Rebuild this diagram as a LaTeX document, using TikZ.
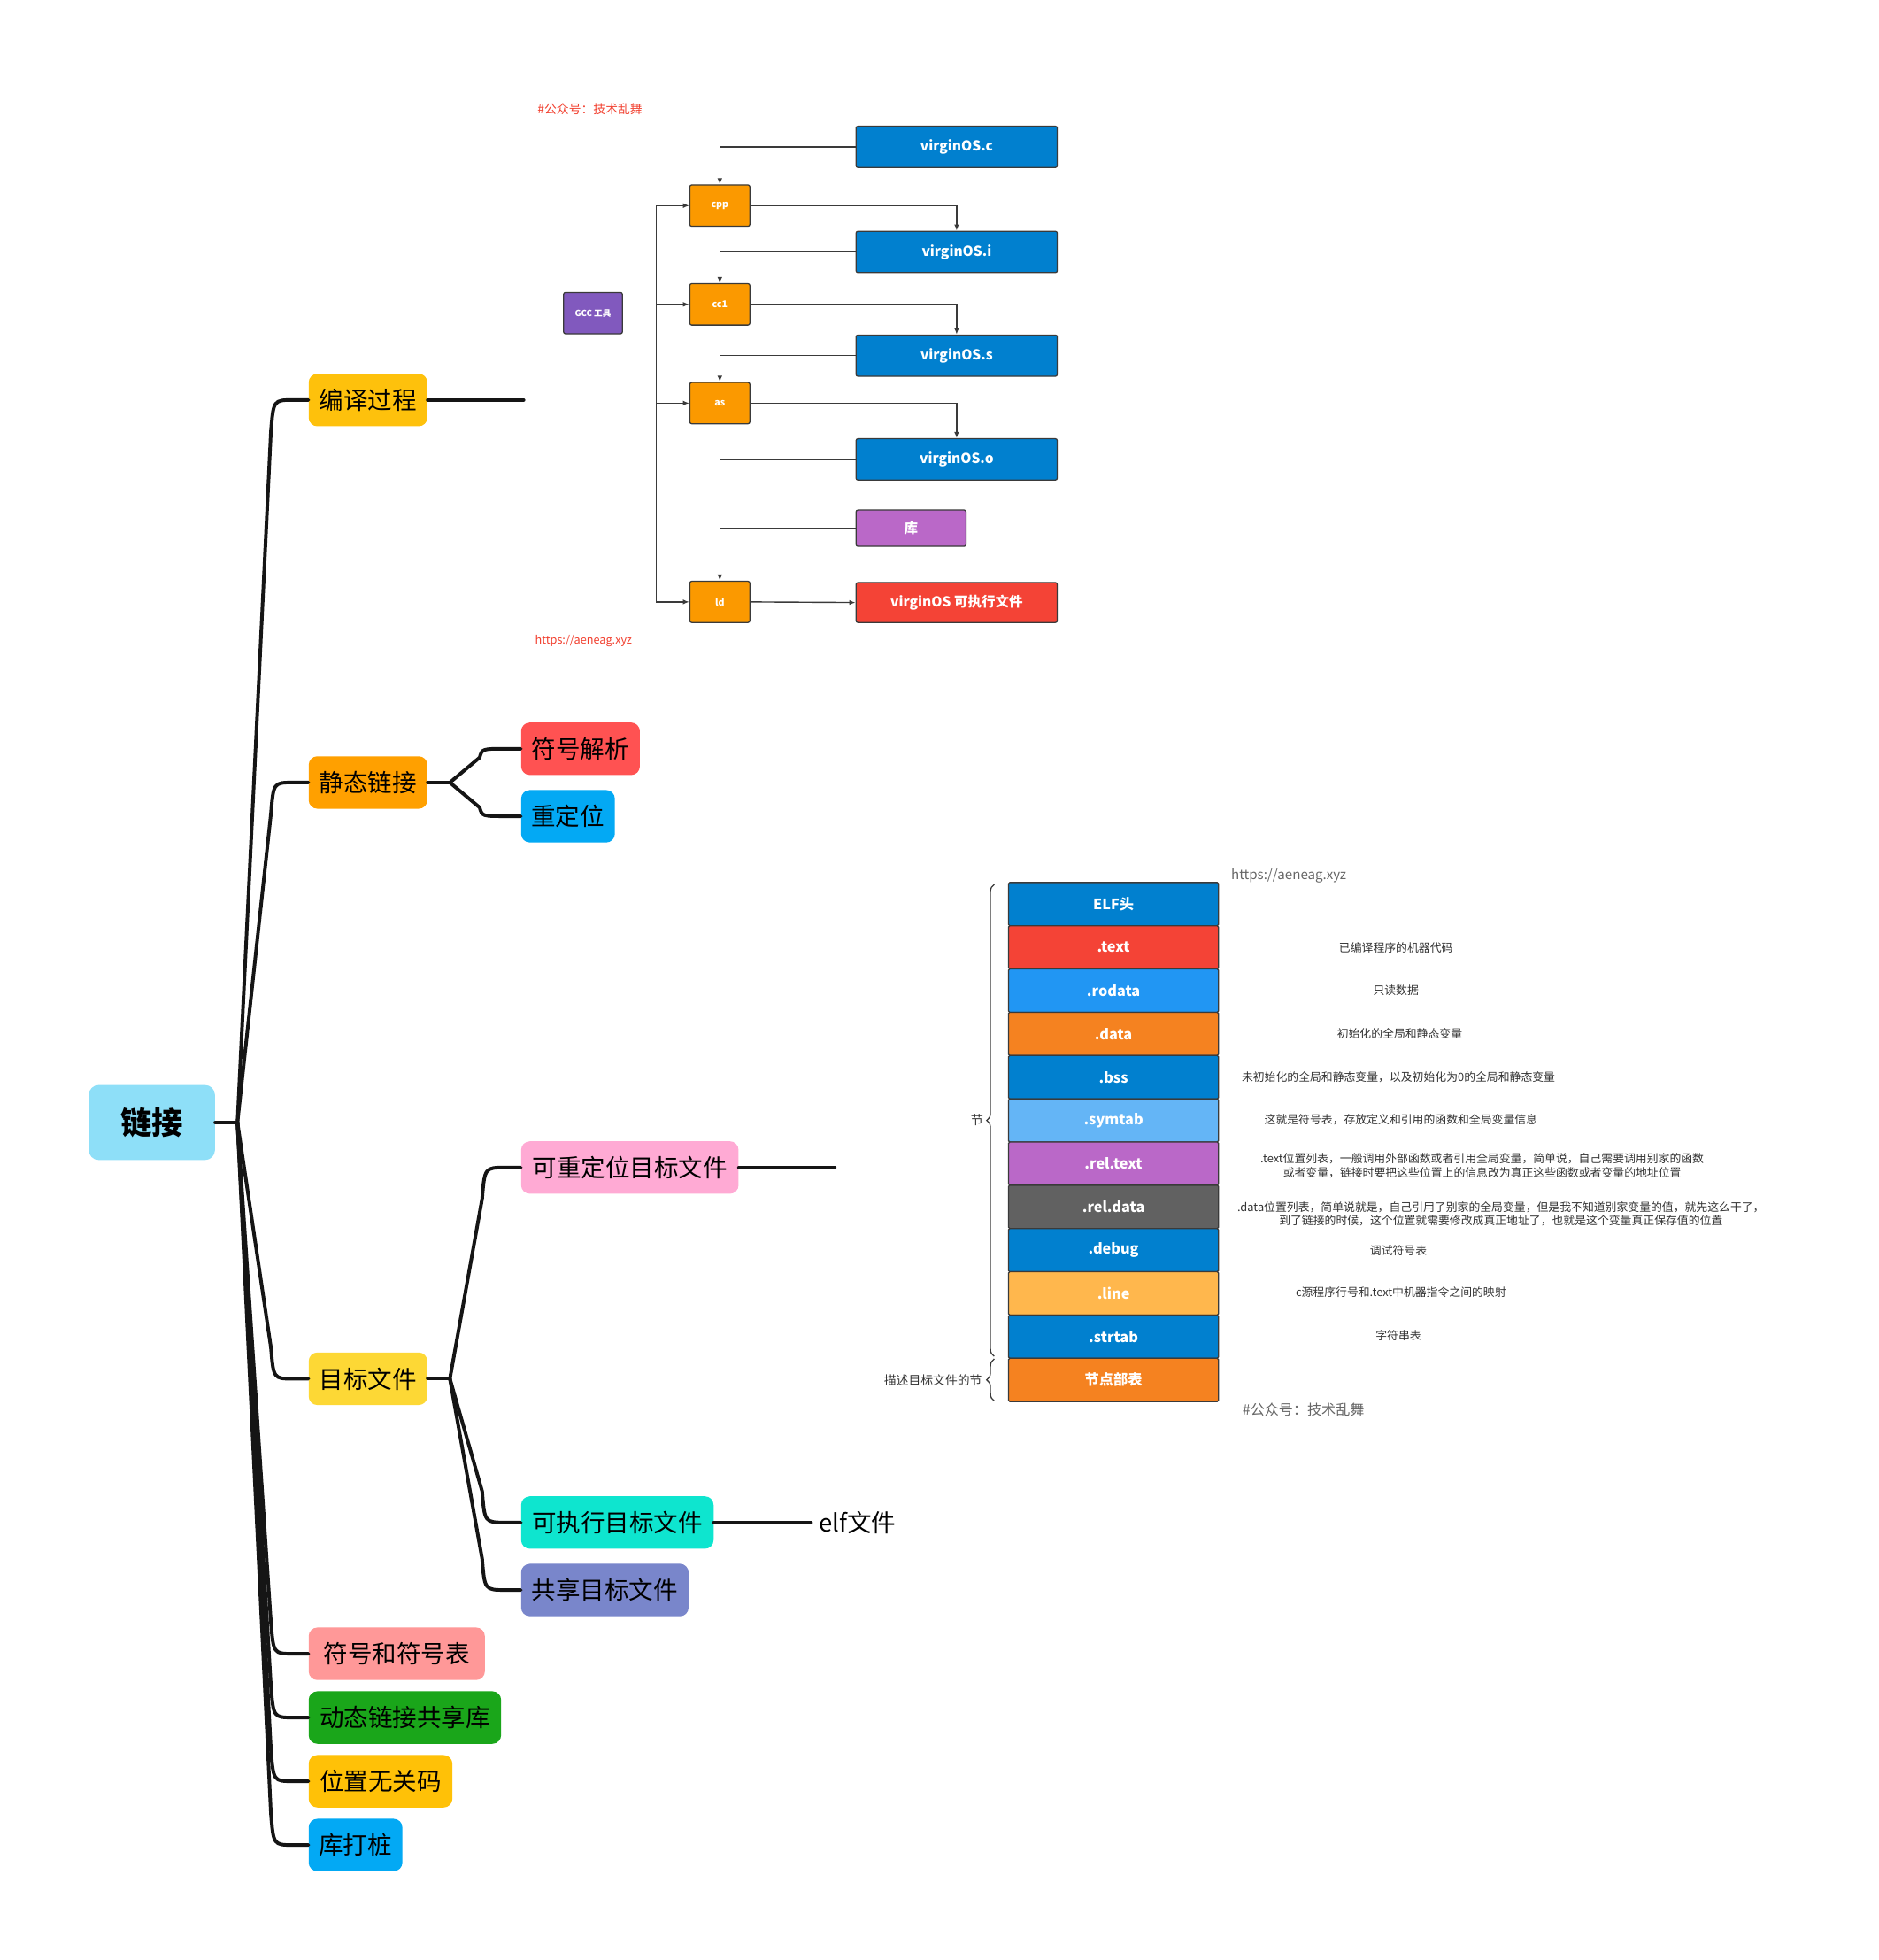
\documentclass[tikz,border=0pt]{standalone}
\usepackage{fontspec}
\setmainfont{Noto Sans CJK SC}
\usetikzlibrary{arrows.meta,calc,decorations.pathreplacing}
\definecolor{lineblack}{HTML}{151515}
\definecolor{fcline}{HTML}{3A3A3A}
\definecolor{fcblue}{HTML}{0180CF}
\definecolor{fcorange}{HTML}{FB9900}
\definecolor{fcpurple}{HTML}{8159BE}
\definecolor{kupurple}{HTML}{BA68C8}
\definecolor{exered}{HTML}{F44336}
\definecolor{notered}{HTML}{F2402F}
\definecolor{notegray}{HTML}{666666}
\definecolor{descgray}{HTML}{333333}
\definecolor{cRoot}{HTML}{8EDFF8}
\definecolor{cBianyi}{HTML}{FEC10C}
\definecolor{cJingtai}{HTML}{FFA000}
\definecolor{cFuhao}{HTML}{FF5252}
\definecolor{cSky}{HTML}{03A9F4}
\definecolor{cMubiao}{HTML}{FDD835}
\definecolor{cPink}{HTML}{FFAAD4}
\definecolor{cTurq}{HTML}{0EE5CF}
\definecolor{cPeri}{HTML}{7986CB}
\definecolor{cSalmon}{HTML}{FF9898}
\definecolor{cGreen}{HTML}{1AA61A}
\definecolor{cAmber}{HTML}{FFC107}
\definecolor{eBlue}{HTML}{0180CF}
\definecolor{eRed}{HTML}{F44336}
\definecolor{eLBlue}{HTML}{2196F3}
\definecolor{eOrange}{HTML}{F58220}
\definecolor{eSky}{HTML}{64B5F6}
\definecolor{ePurple}{HTML}{BA68C8}
\definecolor{eGray}{HTML}{616161}
\definecolor{eAmber}{HTML}{FFB74D}
\tikzset{
  mm/.style={rounded corners=7pt, minimum height=42pt, inner sep=0pt, text=black,
    font=\fontsize{19.5}{19.5}\selectfont},
  mml/.style={draw=lineblack, line width=2.8pt, line cap=round},
  fcbox/.style={draw=fcline, line width=0.9pt, rounded corners=1.5pt, text=white, inner sep=0pt},
  fcl/.style={draw=fcline, line width=1pt},
  fca/.style={fcl, -{Latex[length=5pt,width=4pt]}},
  elfrow/.style={draw=fcline, line width=0.9pt, rounded corners=1pt, minimum width=168pt,
    minimum height=34.6pt, inner sep=0pt, text=white, font=\fontsize{11.5}{11.5}\selectfont\bfseries},
  desc/.style={text=descgray, font=\fontsize{9.1}{11}\selectfont, align=center, inner sep=0pt}
}
\newcommand\mmlink[4]{\draw[mml] (#1) -- ($(#2.west)+(#3,#4)$) .. controls ($(#2.west)+(#3+2,0)$) .. ($(#2.west)+(-12,0)$) -- (#2.west);}
\begin{document}
\begin{tikzpicture}[x=1pt,y=-1pt]
\useasboundingbox (0,0) rectangle (1503,1568);
\fill[white] (0,0) rectangle (1503,1568);

% ---------------- mind map ----------------
\node[mm, fill=cRoot, minimum width=101pt, minimum height=60pt, rounded corners=8pt,
  font=\fontsize{25}{25}\selectfont\bfseries] (root) at (121.5,898) {链接};
\node[mm, fill=cBianyi, minimum width=95pt] (bianyi) at (294.5,320) {编译过程};
\node[mm, fill=cJingtai, minimum width=95pt] (jingtai) at (294.5,626) {静态链接};
\node[mm, fill=cFuhao, minimum width=95pt] (fuhao) at (464.5,599) {符号解析};
\node[mm, fill=cSky, minimum width=75pt] (chongding) at (454.5,653) {重定位};
\node[mm, fill=cMubiao, minimum width=95pt] (mubiao) at (294.5,1103) {目标文件};
\node[mm, fill=cPink, minimum width=174pt] (kechong) at (504,934) {可重定位目标文件};
\node[mm, fill=cTurq, minimum width=154pt] (kezhixing) at (494,1218) {可执行目标文件};
\node[mm, fill=cPeri, minimum width=134pt] (gongxiang) at (484,1272) {共享目标文件};
\node[anchor=west, inner sep=0pt, font=\fontsize{19.5}{19.5}\selectfont] (elf) at (655,1218) {elf文件};
\node[mm, fill=cSalmon, minimum width=141pt] (fhb) at (317.5,1323) {符号和符号表};
\node[mm, fill=cGreen, minimum width=154pt] (dtlj) at (324,1374) {动态链接共享库};
\node[mm, fill=cAmber, minimum width=115pt] (wzwg) at (304.5,1425) {位置无关码};
\node[mm, fill=cSky, minimum width=75pt] (kdz) at (284.5,1476) {库打桩};

\coordinate (J) at (190,898);
\coordinate (J2) at (360,626);
\coordinate (J3) at (360,1103);
\coordinate (stubA) at (419,320);
\coordinate (stubB) at (668,934);

\draw[mml] (root.east) -- (J);
\mmlink{J}{bianyi}{-30}{25}
\mmlink{J}{jingtai}{-30}{25}
\mmlink{J}{mubiao}{-30}{-25}
\mmlink{J}{fhb}{-30}{-25}
\mmlink{J}{dtlj}{-30}{-25}
\mmlink{J}{wzwg}{-30}{-25}
\mmlink{J}{kdz}{-30}{-25}
\draw[mml] (bianyi.east) -- (stubA);
\draw[mml] (jingtai.east) -- (J2);
\mmlink{J2}{fuhao}{-33}{7}
\mmlink{J2}{chongding}{-33}{-7}
\draw[mml] (mubiao.east) -- (J3);
\mmlink{J3}{kechong}{-31}{25}
\mmlink{J3}{kezhixing}{-31}{-25}
\mmlink{J3}{gongxiang}{-31}{-25}
\draw[mml] (kechong.east) -- (stubB);
\draw[mml] (kezhixing.east) -- ($(elf.west)+(-6,0)$);

% ---------------- GCC flow ----------------
\node[text=notered, anchor=west, inner sep=0pt, font=\fontsize{9.8}{9.8}\selectfont] (noteA) at (430,87) {\#公众号：技术乱舞};
\node[text=notered, anchor=west, inner sep=0pt, font=\fontsize{9}{9}\selectfont] (noteB) at (428,513) {https://aeneag.xyz};

\node[fcbox, fill=fcblue, minimum width=161pt, minimum height=33pt, font=\fontsize{11}{11}\selectfont\bfseries] (vc) at (765.5,117.5) {virginOS.c};
\node[fcbox, fill=fcblue, minimum width=161pt, minimum height=33pt, font=\fontsize{11}{11}\selectfont\bfseries] (vi) at (765.5,201.5) {virginOS.i};
\node[fcbox, fill=fcblue, minimum width=161pt, minimum height=33pt, font=\fontsize{11}{11}\selectfont\bfseries] (vs) at (765.5,284.5) {virginOS.s};
\node[fcbox, fill=fcblue, minimum width=161pt, minimum height=33pt, font=\fontsize{11}{11}\selectfont\bfseries] (vo) at (765.5,367.5) {virginOS.o};
\node[fcbox, fill=kupurple, minimum width=88pt, minimum height=29pt, font=\fontsize{11}{11}\selectfont\bfseries] (ku) at (729,422.5) {库};
\node[fcbox, fill=exered, minimum width=161pt, minimum height=32pt, font=\fontsize{11}{11}\selectfont\bfseries] (exe) at (765.5,482) {virginOS 可执行文件};
\node[fcbox, fill=fcorange, minimum width=48pt, minimum height=33pt, font=\fontsize{7.5}{7.5}\selectfont\bfseries] (cpp) at (576,164.5) {cpp};
\node[fcbox, fill=fcorange, minimum width=48pt, minimum height=33pt, font=\fontsize{7.5}{7.5}\selectfont\bfseries] (cc1) at (576,243.5) {cc1};
\node[fcbox, fill=fcorange, minimum width=48pt, minimum height=33pt, font=\fontsize{7.5}{7.5}\selectfont\bfseries] (as) at (576,322.5) {as};
\node[fcbox, fill=fcorange, minimum width=48pt, minimum height=33pt, font=\fontsize{7.5}{7.5}\selectfont\bfseries] (ld) at (576,481.5) {ld};
\node[fcbox, fill=fcpurple, minimum width=47pt, minimum height=33pt, font=\fontsize{6.8}{6.8}\selectfont\bfseries] (gcc) at (474.5,250.5) {GCC 工具};

\coordinate (T) at (525,250.5);
\draw[fcl] (gcc.east) -- (T);
\draw[fca] (T) |- (cpp.west);
\draw[fca] (T) |- (cc1.west);
\draw[fca] (T) |- (as.west);
\draw[fca] (T) |- (ld.west);
\draw[fca] (vc.west) -| (cpp.north);
\draw[fca] (cpp.east) -| (vi.north);
\draw[fca] (vi.west) -| (cc1.north);
\draw[fca] (cc1.east) -| (vs.north);
\draw[fca] (vs.west) -| (as.north);
\draw[fca] (as.east) -| (vo.north);
\draw[fca] (vo.west) -| (ld.north);
\draw[fcl] (ku.west) -- (ku.west -| ld.north);
\draw[fca] (ld.east) -- (exe.west);

% ---------------- ELF table ----------------
\node[elfrow, fill=eBlue] (r0) at (891,723.3) {ELF头};
\node[elfrow, fill=eRed] (r1) at (891,757.9) {.text};
\node[elfrow, fill=eLBlue] (r2) at (891,792.5) {.rodata};
\node[elfrow, fill=eOrange] (r3) at (891,827.1) {.data};
\node[elfrow, fill=eBlue] (r4) at (891,861.7) {.bss};
\node[elfrow, fill=eSky] (r5) at (891,896.3) {.symtab};
\node[elfrow, fill=ePurple] (r6) at (891,930.9) {.rel.text};
\node[elfrow, fill=eGray] (r7) at (891,965.5) {.rel.data};
\node[elfrow, fill=eBlue] (r8) at (891,1000.1) {.debug};
\node[elfrow, fill=eAmber] (r9) at (891,1034.7) {.line};
\node[elfrow, fill=eBlue] (r10) at (891,1069.3) {.strtab};
\node[elfrow, fill=eOrange] (r11) at (891,1103.9) {节点部表};

\node[text=notegray, anchor=west, inner sep=0pt, font=\fontsize{10.7}{10.7}\selectfont] (urlB) at (985,701) {https://aeneag.xyz};
\node[text=notegray, anchor=west, inner sep=0pt, font=\fontsize{11.4}{11.4}\selectfont] (noteC) at (994,1128) {\#公众号：技术乱舞};

\node[desc] (d1) at (1117,757.9) {已编译程序的机器代码};
\node[desc] (d2) at (1117,792.5) {只读数据};
\node[desc] (d3) at (1120,827.1) {初始化的全局和静态变量};
\node[desc] (d4) at (1119,861.7) {未初始化的全局和静态变量，以及初始化为0的全局和静态变量};
\node[desc] (d5) at (1121,895.5) {这就是符号表，存放定义和引用的函数和全局变量信息};
\node[desc] (d6) at (1186,932.5) {.text位置列表，一般调用外部函数或者引用全局变量，简单说，自己需要调用别家的函数\\或者变量，链接时要把这些位置上的信息改为真正这些函数或者变量的地址位置};
\node[desc] (d7) at (1201,971) {.data位置列表，简单说就是，自己引用了别家的全局变量，但是我不知道别家变量的值，就先这么干了，\\到了链接的时候，这个位置就需要修改成真正地址了，也就是这个变量真正保存值的位置};
\node[desc] (d8) at (1119,1000.1) {调试符号表};
\node[desc] (d9) at (1121,1034) {c源程序行号和.text中机器指令之间的映射};
\node[desc] (d10) at (1119,1068.5) {字符串表};

\draw[fcline, line width=0.9pt, decorate, decoration={brace, amplitude=6pt}]
  ($(r10.south west)+(-11,-2)$) -- ($(r0.north west)+(-11,2)$);
\draw[fcline, line width=0.9pt, decorate, decoration={brace, amplitude=6pt}]
  ($(r11.south west)+(-11,-1)$) -- ($(r11.north west)+(-11,1)$);
\node[desc, anchor=east, font=\fontsize{10}{10}\selectfont] (jie) at (787,896) {节};
\node[desc, anchor=east, font=\fontsize{9.8}{9.8}\selectfont] (miaoshu) at (786,1104) {描述目标文件的节};
\end{tikzpicture}
\end{document}
